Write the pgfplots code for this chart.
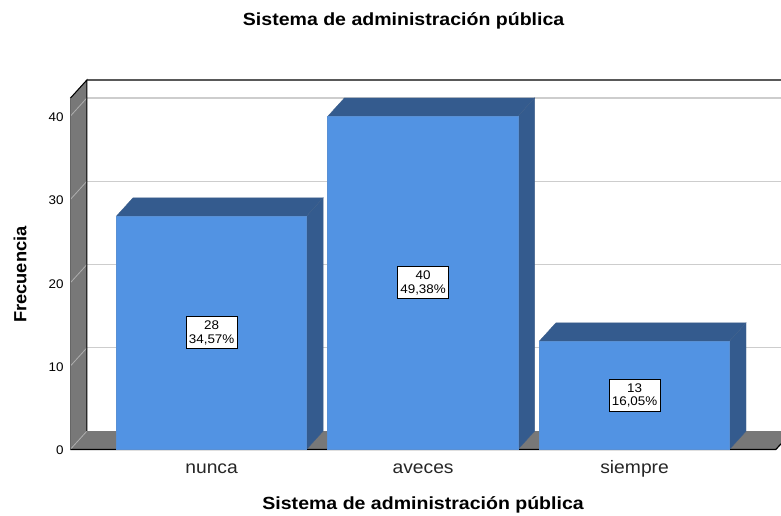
\documentclass[border=0pt]{standalone}
\usepackage{pgfplots}
\usepackage{fontspec}
\setmainfont{Liberation Sans}
\newfontfamily\widea[FakeStretch=1.11]{Liberation Sans}
\newfontfamily\wideb[FakeStretch=1.07]{Liberation Sans}
\newfontfamily\widec[FakeStretch=1.04]{Liberation Sans}
\pgfplotsset{compat=1.18}
\definecolor{barf}{RGB}{82,147,227}
\definecolor{bars}{RGB}{52,91,142}
\definecolor{wallc}{RGB}{120,120,120}
\definecolor{gridc}{RGB}{205,205,205}
\begin{document}
\begin{tikzpicture}
\useasboundingbox (0,0) rectangle (585.75pt,387pt);
\begin{axis}[
  at={(52.7pt,49.9pt)}, anchor=south west,
  scale only axis, width=533pt, height=277.1pt,
  xmin=-0.6683, xmax=2.692, ymin=0, ymax=44.357,
  axis lines=none, clip=false,
]
% walls and floor
\addplot[fill=wallc,draw=none] coordinates {(-0.6683,0)(-0.5898,2.197)(-0.5898,44.357)(-0.6683,42.16)} --cycle;
\addplot[fill=wallc,draw=none] coordinates {(-0.6683,0)(2.668,0)(2.692,0.67)(2.692,2.197)(-0.5898,2.197)} --cycle;
% grid on the back plane and wall
\addplot[gridc,line width=0.8pt] coordinates {(-0.5898,12.197)(2.692,12.197)};
\addplot[gridc,line width=0.8pt] coordinates {(-0.5898,22.197)(2.692,22.197)};
\addplot[gridc,line width=0.8pt] coordinates {(-0.5898,32.197)(2.692,32.197)};
\addplot[gridc,line width=1.2pt] coordinates {(-0.5898,42.197)(2.692,42.197)};
\addplot[gridc!85!black,line width=0.6pt] coordinates {(-0.6683,0)(-0.5898,2.197)};
\addplot[gridc!85!black,line width=0.6pt] coordinates {(-0.6683,10)(-0.5898,12.197)};
\addplot[gridc!85!black,line width=0.6pt] coordinates {(-0.6683,20)(-0.5898,22.197)};
\addplot[gridc!85!black,line width=0.6pt] coordinates {(-0.6683,30)(-0.5898,32.197)};
\addplot[gridc!85!black,line width=0.6pt] coordinates {(-0.6683,40)(-0.5898,42.197)};
% frame
\addplot[black!65,line width=0.9pt] coordinates {(-0.5898,44.357)(2.692,44.357)};
\addplot[black,line width=0.8pt] coordinates {(-0.5898,2.197)(-0.5898,44.357)(-0.6683,42.16)};
\addplot[black!60,line width=0.5pt] coordinates {(-0.6683,42.16)(-0.6683,0)};
\addplot[black,line width=0.9pt] coordinates {(-0.6683,0)(2.668,0)(2.692,0.67)};
% bar sides
\addplot[fill=bars,draw=bars!85!gray,line width=0.3pt] coordinates {(0.4485,0)(0.527,2.197)(0.527,30.197)(0.4485,28)} --cycle;
\addplot[fill=bars,draw=bars!85!gray,line width=0.3pt] coordinates {(1.4485,0)(1.527,2.197)(1.527,42.197)(1.4485,40)} --cycle;
\addplot[fill=bars,draw=bars!85!gray,line width=0.3pt] coordinates {(2.4485,0)(2.527,2.197)(2.527,15.197)(2.4485,13)} --cycle;
% bar tops
\addplot[fill=bars,draw=bars!85!gray,line width=0.3pt] coordinates {(-0.4505,28)(0.4485,28)(0.527,30.197)(-0.372,30.197)} --cycle;
\addplot[fill=bars,draw=bars!85!gray,line width=0.3pt] coordinates {(0.5495,40)(1.4485,40)(1.527,42.197)(0.628,42.197)} --cycle;
\addplot[fill=bars,draw=bars!85!gray,line width=0.3pt] coordinates {(1.5495,13)(2.4485,13)(2.527,15.197)(1.628,15.197)} --cycle;
% bar fronts
\addplot[ybar,bar width=142.6pt,bar shift=-0.2pt,fill=barf,draw=barf!85!gray,line width=0.4pt] coordinates {(0,28)(1,40)(2,13)};
% data labels
\node[draw=black,fill=white,line width=0.6pt,inner sep=0pt,minimum width=38pt,minimum height=24pt,align=center,font=\wideb\fontsize{9.4}{10.2}\selectfont] at (axis cs:0,14) {28\\34,57\%};
\node[draw=black,fill=white,line width=0.6pt,inner sep=0pt,minimum width=38pt,minimum height=24pt,align=center,font=\wideb\fontsize{9.4}{10.2}\selectfont] at (axis cs:1,20) {40\\49,38\%};
\node[draw=black,fill=white,line width=0.6pt,inner sep=0pt,minimum width=38pt,minimum height=24pt,align=center,font=\wideb\fontsize{9.4}{10.2}\selectfont] at (axis cs:2,6.5) {13\\16,05\%};
% tick labels and axis titles
\node[anchor=east,font=\wideb\fontsize{9.4}{10}\selectfont] at (axis cs:-0.678,-0.1) {0};
\node[anchor=east,font=\wideb\fontsize{9.4}{10}\selectfont] at (axis cs:-0.678,9.9) {10};
\node[anchor=east,font=\wideb\fontsize{9.4}{10}\selectfont] at (axis cs:-0.678,19.9) {20};
\node[anchor=east,font=\wideb\fontsize{9.4}{10}\selectfont] at (axis cs:-0.678,29.9) {30};
\node[anchor=east,font=\wideb\fontsize{9.4}{10}\selectfont] at (axis cs:-0.678,39.9) {40};
\node[font=\wideb\fontsize{13.5}{14}\selectfont,text=black!85] at (axis cs:0,-2.3) {nunca};
\node[font=\wideb\fontsize{13.5}{14}\selectfont,text=black!85] at (axis cs:1,-2.3) {aveces};
\node[font=\wideb\fontsize{13.5}{14}\selectfont,text=black!85] at (axis cs:2,-2.3) {siempre};
\node[font=\widea\bfseries\fontsize{13.2}{14}\selectfont] at (axis cs:1,-6.6) {Sistema de administración pública};
\node[rotate=90,font=\widec\bfseries\fontsize{13.2}{14}\selectfont] at (axis cs:-0.905,21) {Frecuencia};
\node[font=\widea\bfseries\fontsize{13.2}{14}\selectfont] at (axis cs:0.908,51.5) {Sistema de administración pública};
\end{axis}
\end{tikzpicture}
\end{document}
